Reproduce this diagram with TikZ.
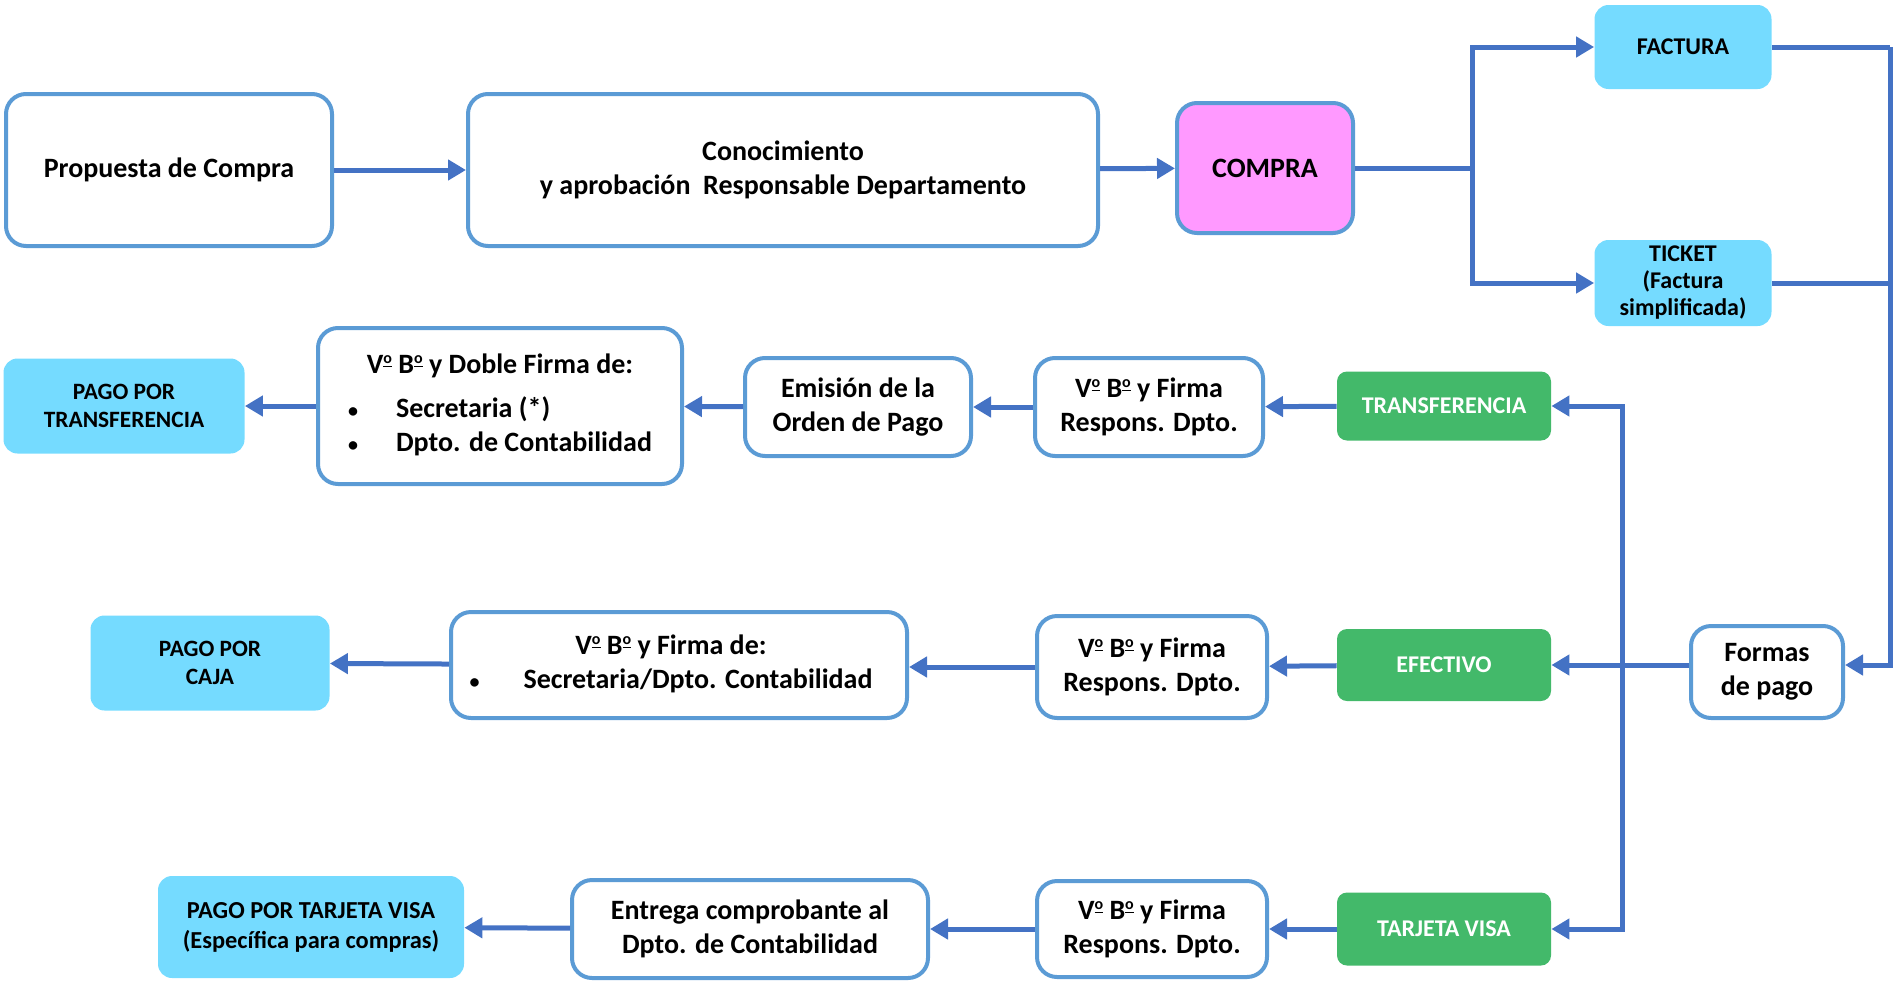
\documentclass[tikz,border=0pt]{standalone}
\usepackage{fontspec}
\setmainfont{Carlito}
\usetikzlibrary{arrows.meta}
\definecolor{linec}{HTML}{4472C4}
\definecolor{bordc}{HTML}{5B9BD5}
\definecolor{cyanf}{HTML}{75DBFF}
\definecolor{greenf}{HTML}{43B96A}
\definecolor{pinkf}{HTML}{FF99FF}
\newcommand{\myord}{\raisebox{0.78ex}{\fontsize{8}{8}\selectfont\underline{o}}}
\newcommand{\mybul}{{\fontsize{10}{10}\selectfont •}}
\begin{document}
\begin{tikzpicture}[x=0.5pt,y=-0.5pt,
  every node/.style={font=\bfseries\fontsize{14}{17}\selectfont, align=center, inner sep=0pt},
  wbox/.style={draw=bordc, line width=2pt, fill=white, rounded corners=10pt},
  cbox/.style={fill=cyanf, rounded corners=7pt},
  pbox/.style={cbox, font=\bfseries\fontsize{11.7}{14}\selectfont},
  gbox/.style={fill=greenf, rounded corners=5pt, text=white, font=\bfseries\fontsize{12}{14}\selectfont},
  link/.style={draw=linec, line width=2.5pt},
  arr/.style={link, -{Triangle[length=9pt,width=10pt]}}]
\useasboundingbox (0,0) rectangle (1895,980);

% row 1
\node[wbox, minimum width=163pt, minimum height=76pt] (prop) at (169,170) {Propuesta de Compra};
\node[wbox, minimum width=315pt, minimum height=76pt] (cono) at (783,170) {Conocimiento\\y aprobación\ \ Responsable Departamento};
\node[wbox, fill=pinkf, minimum width=88pt, minimum height=65pt] (compra) at (1265,168) {COMPRA};
\node[cbox, minimum width=88.5pt, minimum height=42pt, font=\bfseries\fontsize{12}{14}\selectfont] (factura) at (1683,47) {FACTURA};
\node[cbox, minimum width=88.5pt, minimum height=43pt, font=\bfseries\fontsize{12}{13.5}\selectfont] (ticket) at (1683,283) {TICKET\\(Factura\\simplificada)};

% row 2
\node[pbox, minimum width=120.5pt, minimum height=47.5pt] (pagot) at (124,406) {PAGO POR\\TRANSFERENCIA};
\node[wbox, minimum width=182pt, minimum height=78pt] (doble) at (500,406) {%
  \begin{tabular}{@{}l@{\hspace{19pt}}l@{}}
  \multicolumn{2}{c}{V\myord\ B\myord\ y Doble Firma de:}\\[5pt]
  \mybul & Secretaria (*)\\
  \mybul & Dpto. de Contabilidad
  \end{tabular}};
\node[wbox, minimum width=113pt, minimum height=49pt] (emision) at (858,407) {Emisión de la\\Orden de Pago};
\node[wbox, minimum width=114pt, minimum height=49pt] (vb1) at (1149,407) {V\myord\ B\myord\ y Firma\\Respons. Dpto.};
\node[gbox, minimum width=107pt, minimum height=34.5pt] (transf) at (1444,406) {TRANSFERENCIA};

% row 3
\node[pbox, minimum width=119.5pt, minimum height=47.5pt] (caja) at (210,663) {PAGO POR\\CAJA};
\node[wbox, minimum width=228pt, minimum height=53pt] (firmade) at (679,665) {%
  \begin{tabular}{@{}l@{\hspace{22pt}}l@{}}
  \multicolumn{2}{c}{V\myord\ B\myord\ y Firma de:}\\
  \mybul & Secretaria/Dpto. Contabilidad
  \end{tabular}\hspace*{8pt}};
\node[wbox, minimum width=115pt, minimum height=51pt] (vb2) at (1152,667) {V\myord\ B\myord\ y Firma\\Respons. Dpto.};
\node[gbox, minimum width=107pt, minimum height=36pt] (efectivo) at (1444,665) {EFECTIVO};
\node[wbox, minimum width=76pt, minimum height=46pt] (formas) at (1767,672) {Formas\\de pago};

% row 4
\node[cbox, minimum width=153pt, minimum height=51pt, font=\bfseries\fontsize{12.2}{15}\selectfont] (visa) at (311,927) {PAGO POR TARJETA VISA\\(Específica para compras)};
\node[wbox, minimum width=178pt, minimum height=49pt] (entrega) at (750,929) {Entrega comprobante al\\Dpto. de Contabilidad};
\node[wbox, minimum width=115pt, minimum height=48pt] (vb3) at (1152,929) {V\myord\ B\myord\ y Firma\\Respons. Dpto.};
\node[gbox, minimum width=107pt, minimum height=36.5pt] (tarjeta) at (1444,929) {TARJETA VISA};

% helper coordinates
\coordinate (br) at (1472,168);
\coordinate (bus) at (1890,47);
\coordinate (jn) at (1622,665);

% connectors row 1
\draw[arr] (prop) -- (cono);
\draw[arr] (cono) -- (compra);
\draw[link] (compra) -- (br);
\draw[arr] (br) |- (factura);
\draw[arr] (br) |- (ticket);
\draw[link] (factura) -| (bus);
\draw[link] (ticket.east) -- (ticket.east -| bus);
\draw[arr] (bus) |- (formas.east |- efectivo.east);

% payment forms
\draw[arr] (formas.west |- efectivo.east) -- (efectivo);
\draw[arr] (jn) |- (transf);
\draw[arr] (jn) |- (tarjeta);

% row 2
\draw[arr] (transf) -- (vb1);
\draw[arr] (vb1) -- (emision);
\draw[arr] (emision) -- (doble);
\draw[arr] (doble) -- (pagot);

% row 3
\draw[arr] (efectivo) -- (vb2);
\draw[arr] (vb2.west) -- (vb2.west -| firmade.east);
\draw[arr] (firmade) -- (caja);

% row 4
\draw[arr] (tarjeta) -- (vb3);
\draw[arr] (vb3) -- (entrega);
\draw[arr] (entrega) -- (visa);
\end{tikzpicture}
\end{document}
